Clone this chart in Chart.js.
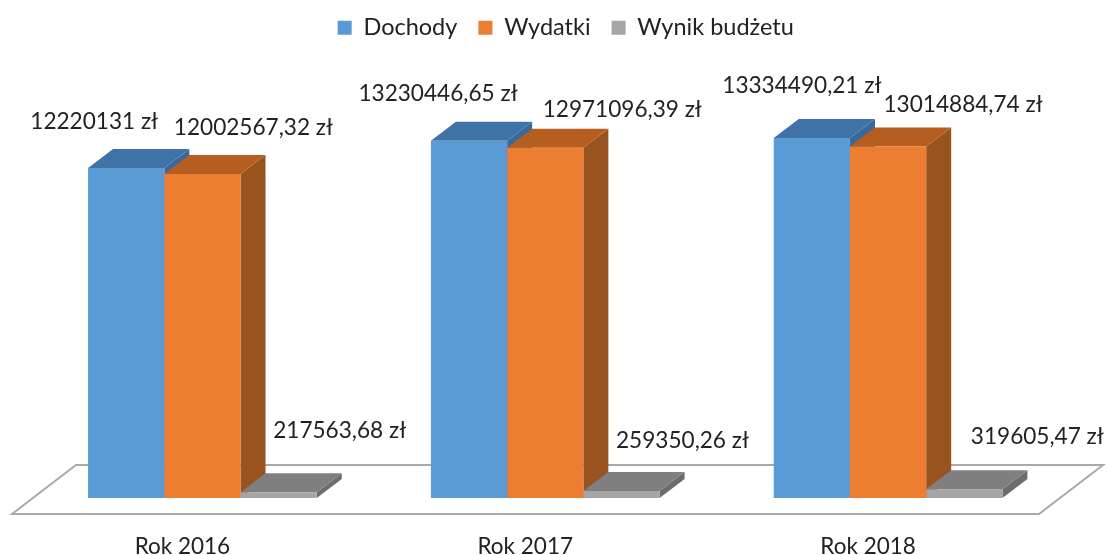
<!DOCTYPE html>
<html>
<head>
<meta charset="utf-8">
<title>Budżet</title>
<script src="https://cdn.jsdelivr.net/npm/chart.js@4/dist/chart.umd.min.js"></script>
<style>
  html, body { margin: 0; padding: 0; background: #fff; }
  canvas { display: block; }
</style>
</head>
<body>
<canvas id="chart" width="1109" height="555"></canvas>
<script>
const years = ['Rok 2016', 'Rok 2017', 'Rok 2018'];
const dochody = [12220131, 13230446.65, 13334490.21];
const wydatki = [12002567.32, 12971096.39, 13014884.74];
const wynik = [217563.68, 259350.26, 319605.47];

// where each value label sits relative to the top of its bar [dx, dy]
const labelShift = [
    [[-32, -46], [-31, -47], [-10, -52]],
    [[51, -46], [77, -38], [75, -42]],
    [[61, -61], [61, -50], [73, -53]]
];
// side / top shades of the fake 3D boxes
const shades = [
    { side: '#38699a', top: '#3f72a6' },
    { side: '#99531f', top: '#b65d20' },
    { side: '#6c6c6c', top: '#7f7f7f' }
];
const depthX = 25;
const depthY = 19;
const fontName = 'Lato, sans-serif';
const textColor = '#222222';

function money(v) {
    return String(v).replace('.', ',') + ' zł';
}

const box3d = {
    id: 'box3d',
    afterLayout(chart) {
        // legend sits a bit right of the centre and above its default line
        const l = chart.legend;
        l.left += 20.5; l.right += 20.5;
        l.top -= 5; l.bottom -= 5;
    },
    beforeDatasetsDraw(chart) {
        const { ctx } = chart;
        const base = chart.scales.y.getPixelForValue(0);
        ctx.save();
        // floor
        ctx.strokeStyle = '#a9a9a9';
        ctx.lineWidth = 2;
        ctx.beginPath();
        ctx.moveTo(12, base + 16);
        ctx.lineTo(76, base - 33);
        ctx.lineTo(1103, base - 33);
        ctx.lineTo(1039, base + 16);
        ctx.closePath();
        ctx.stroke();
        // side and top faces, left to right, the library paints the fronts after
        shades.forEach((shade, i) => {
            chart.getDatasetMeta(i).data.forEach(bar => {
                const left = bar.x - bar.width / 2;
                const right = bar.x + bar.width / 2;
                const top = bar.y;
                const bottom = bar.base;
                ctx.fillStyle = shade.side;
                ctx.beginPath();
                ctx.moveTo(right, top);
                ctx.lineTo(right + depthX, top - depthY);
                ctx.lineTo(right + depthX, bottom - depthY);
                ctx.lineTo(right, bottom);
                ctx.closePath();
                ctx.fill();
                ctx.fillStyle = shade.top;
                ctx.beginPath();
                ctx.moveTo(left, top);
                ctx.lineTo(left + depthX, top - depthY);
                ctx.lineTo(right + depthX, top - depthY);
                ctx.lineTo(right, top);
                ctx.closePath();
                ctx.fill();
            });
        });
        ctx.restore();
    },
    afterDatasetsDraw(chart) {
        const { ctx } = chart;
        ctx.save();
        ctx.font = '22.6px ' + fontName;
        ctx.fillStyle = textColor;
        ctx.textAlign = 'center';
        ctx.textBaseline = 'middle';
        chart.data.datasets.forEach((ds, i) => {
            chart.getDatasetMeta(i).data.forEach((bar, j) => {
                const s = labelShift[i][j];
                ctx.fillText(money(ds.data[j]), bar.x + s[0], bar.y + s[1]);
            });
        });
        ctx.restore();
    }
};

new Chart(document.getElementById('chart'), {
    type: 'bar',
    data: {
        labels: years,
        datasets: [
            { label: 'Dochody', data: dochody, backgroundColor: '#5b9bd5' },
            { label: 'Wydatki', data: wydatki, backgroundColor: '#ed7d31' },
            { label: 'Wynik budżetu', data: wynik, backgroundColor: '#a5a5a5' }
        ]
    },
    options: {
        responsive: false,
        animation: false,
        layout: { padding: { left: 31, right: 49.5, top: 0, bottom: 0 } },
        datasets: { bar: { categoryPercentage: 0.667, barPercentage: 1 } },
        plugins: {
            tooltip: { enabled: false },
            legend: {
                position: 'top',
                labels: {
                    boxWidth: 14,
                    boxHeight: 14,
                    padding: 21,
                    color: textColor,
                    font: { family: fontName, size: 23.5 }
                }
            }
        },
        scales: {
            x: {
                grid: { display: false },
                border: { display: false },
                afterFit(scale) { scale.height = 57; },
                ticks: {
                    color: textColor,
                    font: { family: fontName, size: 22.5 },
                    padding: 27,
                    labelOffset: -20,
                    maxRotation: 0,
                    autoSkip: false
                }
            },
            y: { display: false, min: 0, max: 16426000 }
        }
    },
    plugins: [box3d]
});
</script>
</body>
</html>
